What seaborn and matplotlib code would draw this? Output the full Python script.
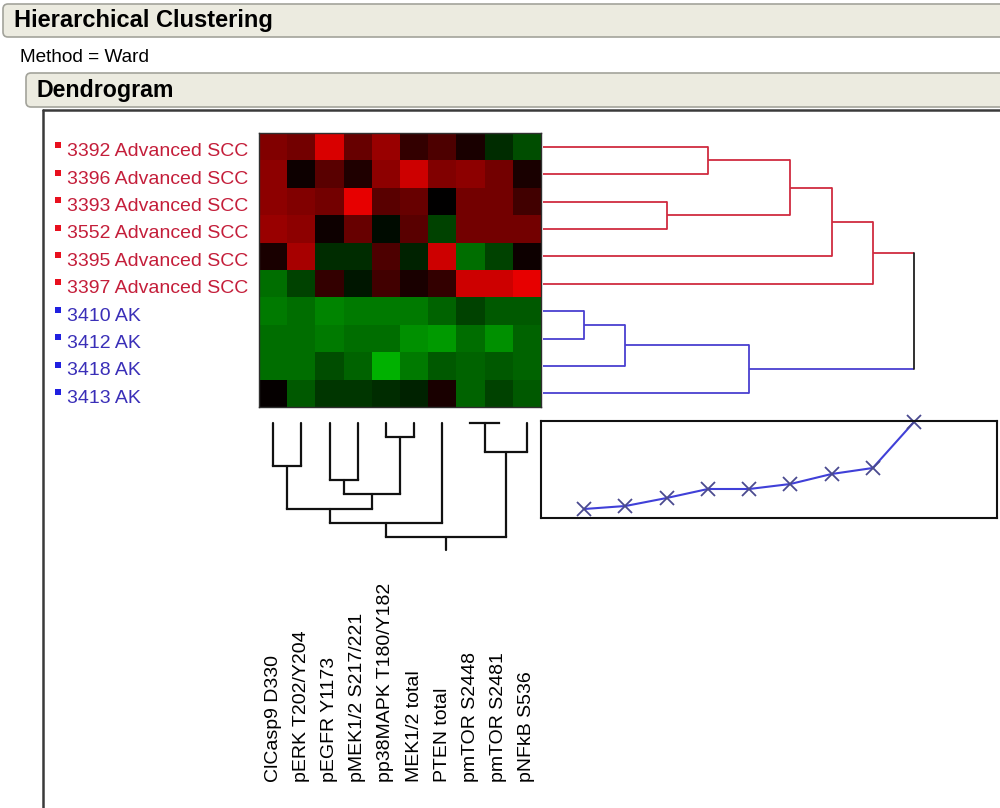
import numpy as np
import pandas as pd
import matplotlib
matplotlib.use("Agg")
import matplotlib.pyplot as plt
import matplotlib.transforms as mtransforms
from matplotlib.colors import LinearSegmentedColormap
from matplotlib.patches import FancyBboxPatch
import seaborn as sns

sns.set_style("white")
plt.rcParams["font.family"] = ["Liberation Sans", "DejaVu Sans"]
plt.rcParams["text.color"] = "black"

# ---------------- data ----------------
samples = ["3392 Advanced SCC", "3396 Advanced SCC", "3393 Advanced SCC",
           "3552 Advanced SCC", "3395 Advanced SCC", "3397 Advanced SCC",
           "3410 AK", "3412 AK", "3418 AK", "3413 AK"]
groups = ["SCC"] * 6 + ["AK"] * 4
markers = ["ClCasp9 D330", "pERK T202/Y204", "pEGFR Y1173", "pMEK1/2 S217/221",
           "pp38MAPK T180/Y182", "MEK1/2 total", "PTEN total", "pmTOR S2448",
           "pmTOR S2481", "pNFkB S536"]

# standardized intensities (green = low, red = high)
values = [
    [0.50, 0.45, 0.85, 0.40, 0.60, 0.20, 0.30, 0.10, -0.20, -0.35],
    [0.55, 0.05, 0.35, 0.12, 0.55, 0.80, 0.50, 0.55, 0.45, 0.10],
    [0.55, 0.50, 0.45, 0.90, 0.35, 0.40, 0.00, 0.45, 0.45, 0.25],
    [0.60, 0.55, 0.05, 0.40, -0.05, 0.35, -0.30, 0.45, 0.45, 0.45],
    [0.10, 0.65, -0.20, -0.20, 0.30, -0.15, 0.80, -0.50, -0.30, 0.05],
    [-0.50, -0.30, 0.20, -0.10, 0.25, 0.10, 0.20, 0.80, 0.80, 0.90],
    [-0.55, -0.50, -0.60, -0.55, -0.55, -0.55, -0.45, -0.30, -0.40, -0.40],
    [-0.50, -0.50, -0.55, -0.50, -0.50, -0.65, -0.70, -0.50, -0.65, -0.45],
    [-0.50, -0.50, -0.35, -0.45, -0.80, -0.55, -0.40, -0.45, -0.40, -0.45],
    [0.02, -0.40, -0.25, -0.25, -0.20, -0.15, 0.10, -0.45, -0.30, -0.40],
]

# row joins (leaf ids 0..9, join k gets id 10+k), joined at step k+1
row_joins = [(6, 7), (10, 8), (2, 3), (0, 1), (11, 9), (13, 12), (15, 4), (16, 5), (17, 14)]
# column joins, joined at level k+1 (leaves start at level 1)
col_joins = [(7, 8), (4, 5), (10, 9), (0, 1), (2, 3), (14, 11), (13, 15), (16, 6), (17, 12)]
# distance graph: joining distance for each step
join_steps = [1, 2, 3, 4, 5, 6, 7, 8, 9]
join_dist = [0.9, 1.2, 2.0, 2.9, 2.9, 3.4, 4.4, 5.0, 9.6]

W, H = 1000, 808
red_lbl, blue_lbl = "#c41e3a", "#3a2fb8"
red_ln, blue_ln = "#d02c40", "#4a40d0"


def px_rect(x0, y0, x1, y1):
    return [x0 / W, 1 - y1 / H, (x1 - x0) / W, (y1 - y0) / H]


fig = plt.figure(figsize=(10, 8.08), dpi=100)

# background / window chrome
bg = fig.add_axes([0, 0, 1, 1])
bg.set_xlim(0, W)
bg.set_ylim(H, 0)
bg.axis("off")
for (x0, y0, hh) in [(3, 4, 33), (26, 73, 34)]:
    bg.add_patch(FancyBboxPatch((x0, y0), 1020, hh, boxstyle="round,pad=0,rounding_size=5",
                                fc="#ecebe0", ec="#a3a39b", lw=1.2))
bg.text(14, 21, "Hierarchical Clustering", fontsize=17, fontweight="bold", va="center", ha="left")
bg.text(20, 57, "Method = Ward", fontsize=13.7, va="center", ha="left")
bg.text(37, 90, "Dendrogram", fontsize=16.7, fontweight="bold", va="center", ha="left")
bg.plot([43, 43], [110, 808], color="#3a3a3a", lw=1.8)
bg.plot([43, 1000], [110, 110], color="#3a3a3a", lw=1.8)

# heatmap
cmap = LinearSegmentedColormap.from_list("gkr", [(0.0, "#00dc00"), (0.5, "#000000"), (1.0, "#ff0000")])
df = pd.DataFrame(values, index=samples, columns=markers)
ax_h = fig.add_axes(px_rect(259, 133, 541, 407))
sns.heatmap(df, cmap=cmap, vmin=-1, vmax=1, cbar=False, ax=ax_h,
            xticklabels=False, yticklabels=False)
for sp in ax_h.spines.values():
    sp.set_visible(True)
    sp.set_color("#303030")
    sp.set_linewidth(1)
ax_h.set_xlabel("")
ax_h.set_ylabel("")

# row labels with colour squares
tr_rows = mtransforms.blended_transform_factory(bg.transData, ax_h.transData)
for i, (name, g) in enumerate(zip(samples, groups)):
    c = red_lbl if g == "SCC" else blue_lbl
    sq = "#e8101e" if g == "SCC" else "#2020e0"
    ax_h.text(67, i + 0.68, name, transform=tr_rows, fontsize=14, color=c,
              va="center", ha="left", clip_on=False)
    ax_h.scatter([58], [i + 0.45], marker="s", s=14, color=sq, transform=tr_rows,
                 clip_on=False, linewidths=0)

# column labels
tr_cols = mtransforms.blended_transform_factory(ax_h.transData, bg.transData)
for j, name in enumerate(markers):
    ax_h.text(j + 0.5, 782, name, transform=tr_cols, rotation=90, fontsize=14,
              ha="center", va="bottom", clip_on=False)

# row dendrogram (steps on x)
ax_r = fig.add_axes(px_rect(543, 133, 914, 407))
ax_r.set_xlim(0, 9)
ax_r.set_ylim(len(samples), 0)
ax_r.axis("off")
pos = {i: (0.0, i + 0.5) for i in range(len(samples))}
grp = {i: g for i, g in enumerate(groups)}
for k, (a, b) in enumerate(row_joins):
    s = k + 1
    ga, gb = grp[a], grp[b]
    g = ga if ga == gb else None
    col = {"SCC": red_ln, "AK": blue_ln, None: "#202020"}[g]
    for ch in (a, b):
        cx, cy = pos[ch]
        ccol = {"SCC": red_ln, "AK": blue_ln}[grp[ch]]
        ax_r.plot([cx, s], [cy, cy], color=ccol, lw=1.3, clip_on=False, solid_capstyle="butt")
    ax_r.plot([s, s], [pos[a][1], pos[b][1]], color=col, lw=1.3, clip_on=False)
    node = 10 + k
    pos[node] = (s, (pos[a][1] + pos[b][1]) / 2)
    grp[node] = g

# column dendrogram (levels on y)
lvl_px = 14.25
ax_c = fig.add_axes(px_rect(259, 423, 541, 551))
ax_c.set_xlim(0, len(markers))
ax_c.set_ylim(1 + 128 / lvl_px, 1)
ax_c.axis("off")
cpos = {j: (j + 0.5, 1.0) for j in range(len(markers))}
for k, (a, b) in enumerate(col_joins):
    lv = k + 1
    for ch in (a, b):
        cx, cy = cpos[ch]
        ax_c.plot([cx, cx], [cy, lv], color="#111111", lw=1.6, clip_on=False)
    ax_c.plot([cpos[a][0], cpos[b][0]], [lv, lv], color="#111111", lw=1.6, clip_on=False,
              solid_capstyle="projecting")
    cpos[10 + k] = ((cpos[a][0] + cpos[b][0]) / 2, lv)
root_x, root_l = cpos[10 + len(col_joins) - 1]
ax_c.plot([root_x, root_x], [root_l, root_l + 0.9], color="#111111", lw=1.6, clip_on=False)

# distance graph
step_px = 371 / 9
ax_d = fig.add_axes(px_rect(541, 421, 997, 518))
dist_df = pd.DataFrame({"step": join_steps, "distance": join_dist})
sns.lineplot(data=dist_df, x="step", y="distance", ax=ax_d, color="#4040d8", lw=1.5,
             marker="x", markersize=10, markeredgewidth=1.3, markeredgecolor="#4a4a90",
             clip_on=False)
ax_d.set_xlim(-2 / step_px, 454 / step_px)
ax_d.set_ylim(0, 9.7)
ax_d.set_xticks([])
ax_d.set_yticks([])
ax_d.set_xlabel("")
ax_d.set_ylabel("")
for sp in ax_d.spines.values():
    sp.set_visible(True)
    sp.set_color("#111111")
    sp.set_linewidth(1.5)

fig.savefig("out.png", dpi=100)
